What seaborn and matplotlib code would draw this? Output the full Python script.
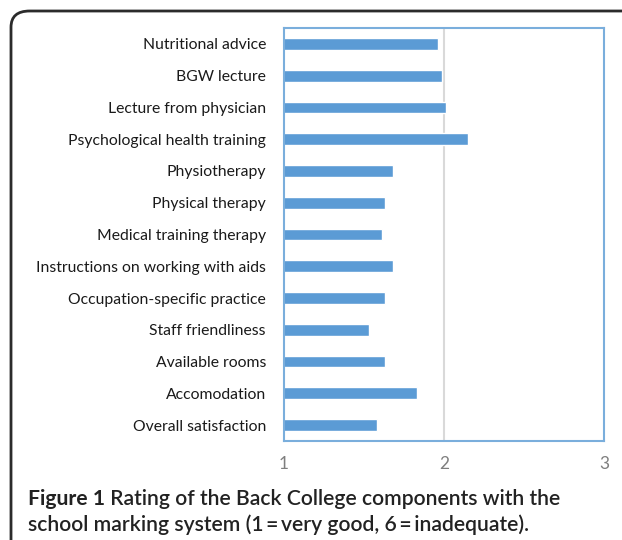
import matplotlib
matplotlib.use("Agg")
import matplotlib.pyplot as plt
import seaborn as sns
import pandas as pd
from matplotlib.patches import FancyBboxPatch

categories = [
    "Nutritional advice",
    "BGW lecture",
    "Lecture from physician",
    "Psychological health training",
    "Physiotherapy",
    "Physical therapy",
    "Medical training therapy",
    "Instructions on working with aids",
    "Occupation-specific practice",
    "Staff friendliness",
    "Available rooms",
    "Accomodation",
    "Overall satisfaction",
]
ratings = [1.96, 1.99, 2.01, 2.15, 1.68, 1.63, 1.61, 1.68, 1.63, 1.53, 1.63, 1.83, 1.58]
x_ticks = [1, 2, 3]

caption_bold = "Figure 1"
caption_rest = " Rating of the Back College components with the"
caption_line2 = "school marking system (1\u2009=\u2009very good, 6\u2009=\u2009inadequate)."

df = pd.DataFrame({"component": categories, "rating": ratings})

sns.set_theme(style="white")
plt.rcParams["font.family"] = ["Lato", "DejaVu Sans"]

fig = plt.figure(figsize=(6.22, 5.40), dpi=100)
ax = fig.add_axes([284 / 622, 1 - 441 / 540, 320 / 622, 413 / 540])

sns.barplot(data=df, x="rating", y="component", orient="h", color="#5b9bd5",
            saturation=1, width=0.37, ax=ax)

ax.set_xlim(1, 3)
ax.set_xticks(x_ticks)
ax.set_xticklabels([str(t) for t in x_ticks], color="#7f7f7f", fontsize=12.5)
ax.tick_params(axis="x", length=0, pad=11)
ax.tick_params(axis="y", length=0, pad=13)
for lbl in ax.get_yticklabels():
    lbl.set_fontsize(11.3)
    lbl.set_color("#1a1a1a")
ax.set_xlabel("")
ax.set_ylabel("")
ax.axvline(2, color="#d9d9d9", lw=1.5, zorder=0)
for s in ax.spines.values():
    s.set_visible(True)
    s.set_color("#7aaedc")
    s.set_linewidth(1.5)

# outer rounded frame
frame = FancyBboxPatch((11 / 622, -0.1), 1.2, (1 - 11 / 540) + 0.1,
                       boxstyle="round,pad=0,rounding_size=0.03",
                       transform=fig.transFigure, fill=False,
                       edgecolor="#2b2b2b", linewidth=2, clip_on=False)
fig.patches.append(frame)

# caption
fs = 15.2
t1 = fig.text(28 / 622, 1 - 505 / 540, caption_bold, fontsize=fs, fontweight="bold",
              color="#222222", va="baseline", ha="left")
fig.canvas.draw()
r = fig.canvas.get_renderer()
bb = t1.get_window_extent(renderer=r)
fig.text(bb.x1 / fig.bbox.width, 1 - 505 / 540, caption_rest, fontsize=fs,
         fontweight="semibold", color="#222222", va="baseline", ha="left")
fig.text(28 / 622, 1 - 531 / 540, caption_line2, fontsize=fs, fontweight="semibold",
         color="#222222", va="baseline", ha="left")

fig.savefig("out.png", dpi=100, facecolor="white")
